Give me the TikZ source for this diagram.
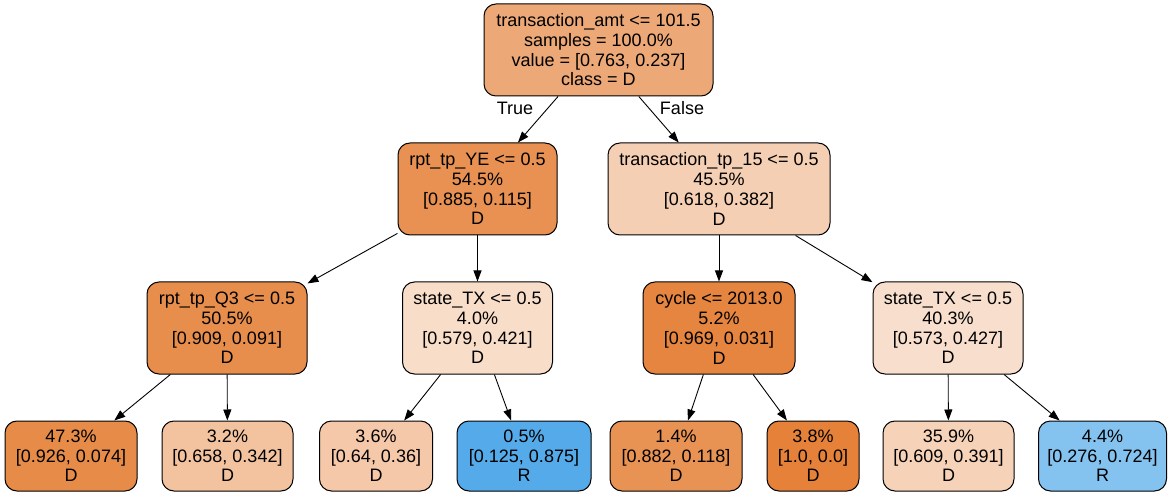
\documentclass[tikz,border=0pt]{standalone}
\usepackage{fontspec}
\setmainfont{Liberation Sans}
\usetikzlibrary{arrows.meta}
\definecolor{Dor}{RGB}{229,129,57}
\definecolor{Rbl}{RGB}{57,157,229}
\begin{document}
\begin{tikzpicture}[x=1pt,y=-1pt,
  tnode/.style={draw=black, line width=1pt, rounded corners=12pt, inner sep=0pt,
    align=center, font=\fontsize{18}{19.7}\selectfont},
  lbl/.style={inner sep=0pt, font=\fontsize{18}{19.7}\selectfont},
  conn/.style={-{Triangle[length=11pt,width=8pt]}, line width=0.9pt}]
\useasboundingbox (0,0) rectangle (1176,497);
% level 0
\node[tnode, fill=Dor!68.9!white, minimum width=229pt, minimum height=92pt] (root) at (598.5,50)
  {transaction\_amt <= 101.5\\samples = 100.0\%\\value = [0.763, 0.237]\\class = D};
% level 1
\node[tnode, fill=Dor!87!white, minimum width=159pt, minimum height=92pt] (ye) at (477.5,189)
  {rpt\_tp\_YE <= 0.5\\54.5\%\\{[0.885, 0.115]}\\D};
\node[tnode, fill=Dor!38.2!white, minimum width=222pt, minimum height=92pt] (tp) at (719,189)
  {transaction\_tp\_15 <= 0.5\\45.5\%\\{[0.618, 0.382]}\\D};
% level 2
\node[tnode, fill=Dor!90!white, minimum width=160pt, minimum height=92pt] (q3) at (227,328)
  {rpt\_tp\_Q3 <= 0.5\\50.5\%\\{[0.909, 0.091]}\\D};
\node[tnode, fill=Dor!27.3!white, minimum width=150pt, minimum height=92pt] (stl) at (477.5,328)
  {state\_TX <= 0.5\\4.0\%\\{[0.579, 0.421]}\\D};
\node[tnode, fill=Dor!96.8!white, minimum width=152pt, minimum height=92pt] (cyc) at (719,328)
  {cycle <= 2013.0\\5.2\%\\{[0.969, 0.031]}\\D};
\node[tnode, fill=Dor!25.5!white, minimum width=150pt, minimum height=92pt] (str) at (948,328)
  {state\_TX <= 0.5\\40.3\%\\{[0.573, 0.427]}\\D};
% leaves
\node[tnode, fill=Dor!92!white, minimum width=132pt, minimum height=70pt] (l1) at (71,456)
  {47.3\%\\{[0.926, 0.074]}\\D};
\node[tnode, fill=Dor!48!white, minimum width=131pt, minimum height=70pt] (l2) at (227.5,456)
  {3.2\%\\{[0.658, 0.342]}\\D};
\node[tnode, fill=Dor!43.75!white, minimum width=113pt, minimum height=70pt] (l3) at (376,456)
  {3.6\%\\{[0.64, 0.36]}\\D};
\node[tnode, fill=Rbl!85.7!white, minimum width=134pt, minimum height=70pt] (l4) at (524,456)
  {0.5\%\\{[0.125, 0.875]}\\R};
\node[tnode, fill=Dor!86.6!white, minimum width=132pt, minimum height=70pt] (l5) at (676,456)
  {1.4\%\\{[0.882, 0.118]}\\D};
\node[tnode, fill=Dor, minimum width=92pt, minimum height=70pt] (l6) at (813,456)
  {3.8\%\\{[1.0, 0.0]}\\D};
\node[tnode, fill=Dor!35.8!white, minimum width=131pt, minimum height=70pt] (l7) at (948.5,456)
  {35.9\%\\{[0.609, 0.391]}\\D};
\node[tnode, fill=Rbl!61.9!white, minimum width=128pt, minimum height=70pt] (l8) at (1102.5,456)
  {4.4\%\\{[0.276, 0.724]}\\R};
% edge labels
\node[lbl] (ltrue) at (515,108) {True};
\node[lbl] (lfalse) at (682,108) {False};
% connectors
\draw[conn] (root) -- (ye);
\draw[conn] (root) -- (tp);
\draw[conn] (ye) -- (q3);
\draw[conn] (ye) -- (stl);
\draw[conn] (tp) -- (cyc);
\draw[conn] (tp) -- (str);
\draw[conn] (q3) -- (l1);
\draw[conn] (q3) -- (l2);
\draw[conn] (stl) -- (l3);
\draw[conn] (stl) -- (l4);
\draw[conn] (cyc) -- (l5);
\draw[conn] (cyc) -- (l6);
\draw[conn] (str) -- (l7);
\draw[conn] (str) -- (l8);
\end{tikzpicture}
\end{document}
